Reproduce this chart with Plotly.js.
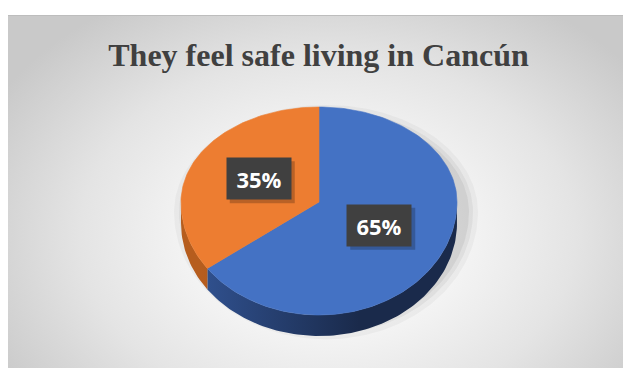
<!DOCTYPE html>
<html>
<head>
<meta charset="utf-8">
<script src="https://cdn.plot.ly/plotly-3.0.1.min.js"></script>
<style>
  html, body { margin: 0; padding: 0; background: #ffffff; }
  #wrap { position: relative; width: 623px; height: 368px; overflow: hidden; }
  #bg { position: absolute; left: 8px; top: 15px; width: 615px; height: 353px;
        border-top: 1px solid #bdbdbd;
        background: radial-gradient(ellipse 62% 78% at 52% 62%, #ffffff 0%, #f7f7f7 30%, #e4e4e4 65%, #c9c9c9 100%); }
  #chart { position: absolute; left: 0; top: 0; width: 623px; height: 368px; }
</style>
</head>
<body>
<div id="wrap"><div id="bg"></div><div id="chart"></div></div>
<script>
// ---- data ----
const categories = ['Yes', 'No'];
const values = [65, 35];
const chartTitle = 'They feel safe living in Cancún';

// ---- style ----
const topColors = ['#4472C4', '#ED7D31'];
const sideLeft = ['#30518f', '#b65d1e'];
const sideRight = ['#1a2a4b', '#8a4514'];
const W = 623, H = 368;
const cx = 319, apexY = 202, rx = 138, ryTop = 95, ryBot = 113, depth = 21;
const labelFrac = 0.49;

function rim(thDeg, dz) {
  const t = thDeg * Math.PI / 180;
  const c = Math.cos(t);
  const x = cx + rx * Math.sin(t);
  const y = apexY - (c >= 0 ? ryTop : ryBot) * c + (dz || 0);
  return [x, y];
}
function arcPts(a, b, dz) {
  const pts = [];
  const n = Math.max(2, Math.ceil(Math.abs(b - a) / 1.5));
  for (let i = 0; i <= n; i++) pts.push(rim(a + (b - a) * i / n, dz));
  return pts;
}

const total = values.reduce((s, v) => s + v, 0);
const traces = [];
const shapes = [];
const annotations = [];

// soft shadow behind the pie
[[14, 0.035], [9, 0.05], [5, 0.06]].forEach(([g, op]) => {
  const pts = arcPts(0, 360, 0).map(([x, y]) => [cx + (x - cx) * (1 + g / rx) + 7, apexY + (y - apexY) * (1 + g / 110) + 10]);
  traces.push({ type: 'scatter', mode: 'lines', x: pts.map(p => p[0]), y: pts.map(p => p[1]),
    fill: 'toself', fillcolor: 'rgba(0,0,0,' + op + ')', line: { width: 0 }, hoverinfo: 'skip', showlegend: false });
});

// slice angles (clockwise from 12 o'clock)
let acc = 0;
const slices = values.map((v, i) => {
  const a = acc / total * 360; acc += v; const b = acc / total * 360;
  return { a, b, i };
});

// side walls (visible front half: 90..270)
slices.forEach(s => {
  const a = Math.max(s.a, 90), b = Math.min(s.b, 270);
  if (b <= a) return;
  const pts = arcPts(a, b, 0).concat(arcPts(b, a, depth));
  pts.push(pts[0]);
  traces.push({ type: 'scatter', mode: 'lines', x: pts.map(p => p[0]), y: pts.map(p => p[1]),
    fill: 'toself',
    fillgradient: { type: 'horizontal', start: cx - rx + 20, stop: cx + 40,
      colorscale: [[0, sideLeft[s.i]], [1, sideRight[s.i]]] },
    line: { width: 0 }, hoverinfo: 'skip', showlegend: false });
});

// top faces
slices.forEach(s => {
  const pts = [[cx, apexY]].concat(arcPts(s.a, s.b, 0)).concat([[cx, apexY]]);
  traces.push({ type: 'scatter', mode: 'lines', x: pts.map(p => p[0]), y: pts.map(p => p[1]),
    fill: 'toself', fillcolor: topColors[s.i], line: { width: 0.6, color: topColors[s.i] },
    name: categories[s.i], hoverinfo: 'skip', showlegend: false });
  // data label
  const mid = (s.a + s.b) / 2 * Math.PI / 180;
  const lx = cx + labelFrac * rx * Math.sin(mid);
  const ly = apexY - labelFrac * 104 * Math.cos(mid);
  shapes.push({ type: 'rect', xref: 'x', yref: 'y', x0: lx - 32 + 3, x1: lx + 32 + 4, y0: ly - 20.5 + 3, y1: ly + 20.5 + 4,
    fillcolor: 'rgba(0,0,0,0.22)', line: { width: 0 }, layer: 'above' });
  annotations.push({ x: lx, y: ly, xref: 'x', yref: 'y', showarrow: false,
    text: '<b>' + Math.round(values[s.i] / total * 100) + '%</b>',
    font: { family: 'Open Sans, Noto Sans, sans-serif', size: 22, color: '#ffffff' },
    bgcolor: '#404040', width: 64, height: 41, borderpad: 0, align: 'center', valign: 'middle' });
});

const layout = {
  width: W, height: H,
  margin: { l: 0, r: 0, t: 0, b: 0 },
  paper_bgcolor: 'rgba(0,0,0,0)', plot_bgcolor: 'rgba(0,0,0,0)',
  xaxis: { range: [0, W], visible: false, fixedrange: true },
  yaxis: { range: [H, 0], visible: false, fixedrange: true },
  title: { text: '<b>' + chartTitle + '</b>', x: 318.5 / W, xref: 'paper', xanchor: 'center',
    y: 1 - 55 / H, yref: 'container', yanchor: 'middle',
    font: { family: 'Liberation Serif, Times New Roman, serif', size: 32, color: '#404040' } },
  shapes: shapes,
  annotations: annotations,
  showlegend: false,
  hovermode: false
};

Plotly.newPlot('chart', traces, layout, { staticPlot: true, displayModeBar: false });
</script>
</body>
</html>
